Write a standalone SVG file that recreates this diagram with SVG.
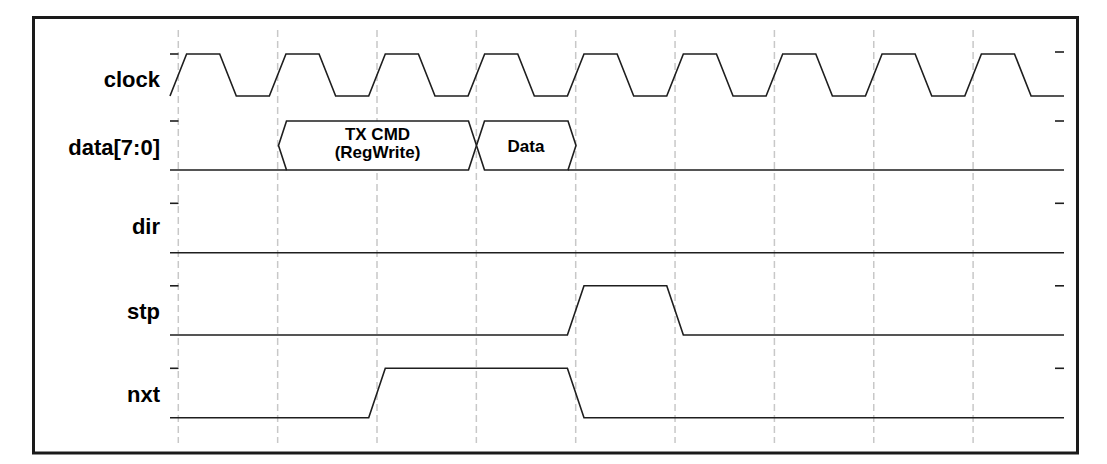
<svg xmlns="http://www.w3.org/2000/svg" width="1107" height="464" viewBox="0 0 1107 464">
<style>
.lbl{font-family:"Liberation Sans",Arial,sans-serif;font-weight:bold;font-size:22px;fill:#000;text-anchor:end}
.in{font-family:"Liberation Sans",Arial,sans-serif;font-weight:bold;font-size:17px;fill:#000;text-anchor:middle}
.grid{stroke:#c8c8c8;stroke-width:1.5;stroke-dasharray:7,4;fill:none}
.w{stroke:#1e1e1e;stroke-width:1.6;fill:none;stroke-linejoin:miter}
.tick{stroke:#1e1e1e;stroke-width:1.6}
.bus{stroke:#1e1e1e;stroke-width:1.6;fill:#fff}
</style>
<rect x="0" y="0" width="1107" height="464" fill="#fff"/>
<rect x="33.5" y="17.5" width="1044" height="435.5" fill="#fff" stroke="#1a1a1a" stroke-width="3"/>
<g id="grid">
<line class="grid" x1="178.3" y1="30" x2="178.3" y2="443"/>
<line class="grid" x1="277.65" y1="30" x2="277.65" y2="443"/>
<line class="grid" x1="377" y1="30" x2="377" y2="443"/>
<line class="grid" x1="476.35" y1="30" x2="476.35" y2="443"/>
<line class="grid" x1="575.7" y1="30" x2="575.7" y2="443"/>
<line class="grid" x1="675.05" y1="30" x2="675.05" y2="443"/>
<line class="grid" x1="774.4" y1="30" x2="774.4" y2="443"/>
<line class="grid" x1="873.75" y1="30" x2="873.75" y2="443"/>
<line class="grid" x1="973.1" y1="30" x2="973.1" y2="443"/>
</g>
<g id="clock">
<text class="lbl" x="160" y="87.3">clock</text>
<line class="tick" x1="170" y1="54" x2="178.5" y2="54"/>
<line class="tick" x1="1055" y1="52" x2="1064" y2="52"/>
<path class="w" d="M170,96 L186.6,54 L219.7,54 L236.3,96 L269.35,96 L285.95,54 L319.05,54 L335.65,96 L368.7,96 L385.3,54 L418.4,54 L435,96 L468.05,96 L484.65,54 L517.75,54 L534.35,96 L567.4,96 L584,54 L617.1,54 L633.7,96 L666.75,96 L683.35,54 L716.45,54 L733.05,96 L766.1,96 L782.7,54 L815.8,54 L832.4,96 L865.45,96 L882.05,54 L915.15,54 L931.75,96 L964.8,96 L981.4,54 L1014.5,54 L1031.1,96 L1064,96"/>
</g>
<g id="data">
<text class="lbl" x="160" y="155">data[7:0]</text>
<line class="tick" x1="170" y1="121" x2="178.5" y2="121"/>
<line class="tick" x1="1055" y1="121" x2="1064" y2="121"/>
<path class="w" d="M170,170 L286.5,170 M568,170 L1064,170"/>
<polygon class="bus" points="278.5,145.5 286.5,121 468.5,121 476.5,145.5 468.5,170 286.5,170"/>
<polygon class="bus" points="476.5,145.5 484.5,121 568,121 576,145.5 568,170 484.5,170"/>
<text class="in" x="377.5" y="139.5">TX CMD</text>
<text class="in" x="377.5" y="158">(RegWrite)</text>
<text class="in" x="526" y="151.7">Data</text>
</g>
<g id="dir">
<text class="lbl" x="160" y="234">dir</text>
<line class="tick" x1="170" y1="203.3" x2="178.5" y2="203.3"/>
<line class="tick" x1="1055" y1="203.3" x2="1064" y2="203.3"/>
<path class="w" d="M170,252.7 L1064,252.7"/>
</g>
<g id="stp">
<text class="lbl" x="160" y="319.3">stp</text>
<line class="tick" x1="170" y1="285.8" x2="178.5" y2="285.8"/>
<line class="tick" x1="1055" y1="285.8" x2="1064" y2="285.8"/>
<path class="w" d="M170,335 L567.4,335 L584,285.8 L666.75,285.8 L683.35,335 L1064,335"/>
</g>
<g id="nxt">
<text class="lbl" x="160" y="401.5">nxt</text>
<line class="tick" x1="170" y1="368.3" x2="178.5" y2="368.3"/>
<line class="tick" x1="1055" y1="368.3" x2="1064" y2="368.3"/>
<path class="w" d="M170,417.7 L368.7,417.7 L385.3,368.3 L567.4,368.3 L584,417.7 L1064,417.7"/>
</g>
</svg>
